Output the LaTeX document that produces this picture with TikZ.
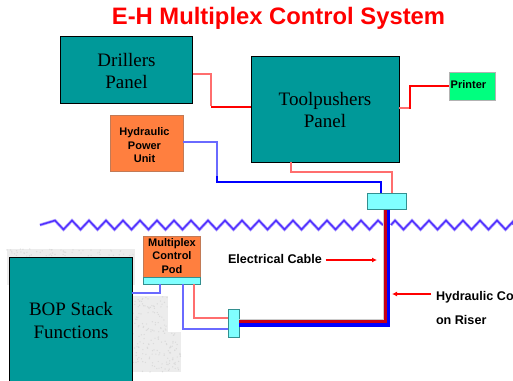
\documentclass[tikz,border=0pt]{standalone}
\usepackage{fontspec}
\setmainfont{Liberation Serif}
\newfontfamily\arialf{Liberation Sans}
\usetikzlibrary{arrows.meta}
\definecolor{tealbox}{HTML}{009999}
\definecolor{orangebox}{HTML}{FF7F3F}
\definecolor{cyanbox}{HTML}{80FFFF}
\definecolor{greenbox}{HTML}{00FF7F}
\definecolor{waveblue}{HTML}{5030FF}
\definecolor{wavepale}{HTML}{B8A8FF}
\definecolor{palered}{HTML}{FF6E6E}
\definecolor{paleblue}{HTML}{6A6AFF}
\definecolor{speck}{HTML}{ECECEC}
\definecolor{speckdot}{HTML}{DADADA}
\definecolor{riserred}{HTML}{C80014}
\tikzset{
  base/.style={inner sep=0pt,outer sep=0pt,align=center,anchor=center},
  panel/.style={base,draw=black,line width=0.9pt,fill=tealbox},
  panellbl/.style={inner sep=0pt,outer sep=0pt,align=center,font=\fontsize{19}{22.5}\selectfont},
  orangeunit/.style={base,draw=orangebox!70!black!80,line width=1pt,fill=orangebox},
  unitlbl/.style={inner sep=0pt,outer sep=0pt,align=center,font=\arialf\bfseries\fontsize{11}{13.5}\selectfont},
  cyanunit/.style={base,draw=tealbox!60!gray,line width=1pt,fill=cyanbox},
  greenunit/.style={base,draw=gray!60,line width=1pt,fill=greenbox},
  redsoft/.style={draw=palered,line width=2.4pt},
  redthin/.style={draw=red,line width=1.4pt},
  bluesoft/.style={draw=paleblue,line width=2.4pt},
  bluethin/.style={draw=blue,line width=1.4pt},
  wavehalo/.style={draw=wavepale,line width=3pt,line join=miter},
  wave/.style={draw=waveblue,line width=1.5pt,line join=miter},
  callout/.style={draw=red,line width=1.3pt,-{Latex[length=5pt,width=5pt]}},
  lbl/.style={inner sep=0pt,outer sep=0pt,anchor=west,font=\arialf\bfseries\fontsize{12.6}{15}\selectfont},
}
\newcommand{\leftwave}{(40,225) foreach \k in {0,...,18} { -- ({55+17*\k},220.5) -- ({63.5+17*\k},229.5) } -- (378,220.5) -- (383,225)}
\newcommand{\rightwave}{(391,225) -- (395,220.5) foreach \k in {20,...,26} { -- ({403.5+17*(\k-20)},229.5) -- ({412+17*(\k-20)},220.5) } -- (513,225)}
\begin{document}
\begin{tikzpicture}[x=1pt,y=-1pt]
\useasboundingbox (0,0) rectangle (513,380);
\fill[white] (0,0) rectangle (513,380);
% speckled backdrop
\fill[speck] (7,249) rectangle (135,285);
\fill[speck] (130,296) rectangle (168,335);
\fill[speck] (130,332) rectangle (181,372);
\pgfmathsetseed{7}
\foreach \i in {1,...,60} {\fill[speckdot] ({7+128*rnd},{249+7*rnd}) circle (0.7pt);}
\foreach \i in {1,...,140} {\fill[speckdot] ({133+35*rnd},{296+76*rnd}) circle (0.7pt);}
\foreach \i in {1,...,40} {\fill[speckdot] ({168+12.5*rnd},{333+38.5*rnd}) circle (0.7pt);}
% waves
\draw[wavehalo] \leftwave;
\draw[wavehalo] \rightwave;
\draw[wave] \leftwave;
\draw[wave] \rightwave;
% title
\node[inner sep=0pt,font=\arialf\bfseries\fontsize{23.8}{27}\selectfont,text=red] (title) at (278.5,18) {E-H Multiplex Control System};
% nodes
\node[panel,minimum width=132pt,minimum height=67pt] (drillers) at (126.5,69.5) {};
\node[panellbl] (drillerslbl) at (126.5,71) {Drillers\\Panel};
\node[panel,minimum width=148pt,minimum height=106pt] (tool) at (325,109) {};
\node[panellbl] (toollbl) at (325,110) {Toolpushers\\Panel};
\node[orangeunit,minimum width=73pt,minimum height=56pt] (hpu) at (146.5,143) {};
\node[unitlbl] (hpulbl) at (144.5,145.5) {Hydraulic\\Power\\Unit};
\node[greenunit,minimum width=46pt,minimum height=28pt] (printer) at (472,86) {};
\node[inner sep=0pt,anchor=west,font=\arialf\bfseries\fontsize{11}{13}\selectfont] (printerlbl) at (450.5,84.5) {Printer};
\node[cyanunit,minimum width=39pt,minimum height=16.5pt] (top) at (387,201.5) {};
\node[panel,minimum width=123.5pt,minimum height=130pt] (bop) at (70.7,322) {};
\node[panellbl] (boplbl) at (71,320.5) {BOP Stack\\Functions};
\node[orangeunit,minimum width=57pt,minimum height=41pt] (pod) at (172,256.5) {};
\node[unitlbl] (podlbl) at (172,256) {Multiplex\\Control\\Pod};
\node[cyanunit,minimum width=57pt,minimum height=7pt] (podbase) at (172,280.5) {};
\node[cyanunit,minimum width=11pt,minimum height=28pt] (joint) at (233.5,323) {};
% connectors
\draw[redsoft] (drillers.east |- 0,74) -- (211,74) -- (211,106);
\draw[redthin] (211,107) -- (tool.west |- 0,107);
\draw[redsoft] (tool.east |- 0,108) -- (410,108);
\draw[redthin] (410,108.5) -- (410,86) -- (printer.west |- 0,86);
\draw[redsoft] (tool.south -| 291,0) -- (291,172) -- (392,172) -- (top.north -| 392,0);
\draw[bluesoft] (hpu.east |- 0,142) -- (217,142) -- (217,178);
\draw[bluethin] (217,176) -- (217,182) -- (381,182) -- (top.north -| 381,0);
\draw[bluesoft] (bop.east |- 0,293) -- (160,293) -- (podbase.south -| 160,0);
\draw[bluesoft] (podbase.south -| 183,0) -- (183,329) -- (joint.west |- 0,329);
\draw[redsoft] (podbase.south -| 194,0) -- (194,318) -- (joint.west |- 0,318);
% riser
\draw[draw=gray!40,line width=0.8pt] (top.south -| 383.2,0) -- (383.2,319.2) -- (joint.east |- 0,319.2);
\draw[draw=blue,line width=3.4pt,line join=miter] (top.south -| 388.6,0) -- (388.6,325) -- (joint.east |- 0,325);
\draw[draw=riserred,line width=3.8pt,line join=miter] (top.south -| 385.5,0) -- (385.5,321.4) -- (joint.east |- 0,321.4);
% labels
\node[lbl] (ec) at (228,259) {Electrical Cable};
\coordinate (ec1) at (325.5,260);
\coordinate (ec2) at (377,260);
\draw[callout] (ec1) -- (ec2);
\node[lbl] (hc) at (436,297) {Hydraulic Co};
\node[lbl] (or) at (436,319.5) {on Riser};
\coordinate (hc1) at (431,294);
\coordinate (hc2) at (392,294);
\draw[callout] (hc1) -- (hc2);
\end{tikzpicture}
\end{document}
